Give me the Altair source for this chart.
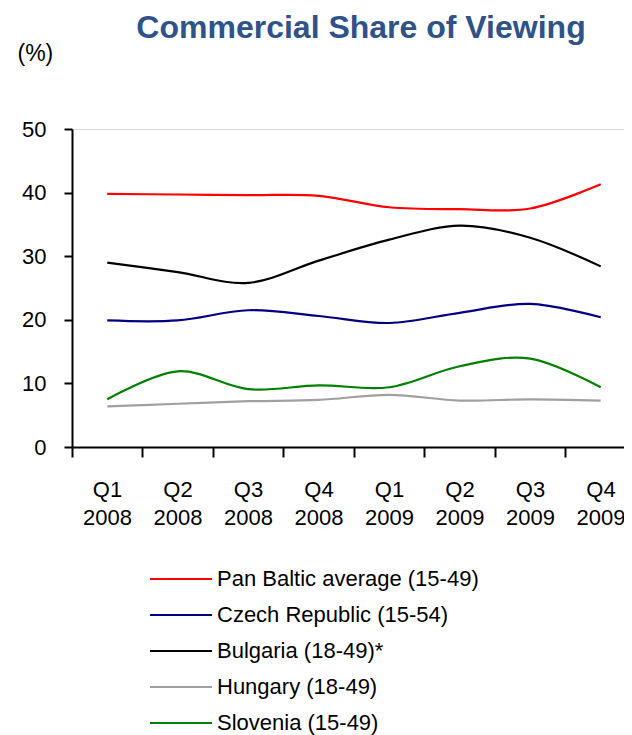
import altair as alt
import pandas as pd

# ---- data ----
quarters = ["Q1 2008", "Q2 2008", "Q3 2008", "Q4 2008",
            "Q1 2009", "Q2 2009", "Q3 2009", "Q4 2009"]
series_names = ["Pan Baltic average (15-49)", "Czech Republic (15-54)",
                "Bulgaria (18-49)*", "Hungary (18-49)", "Slovenia (15-49)"]
pan_baltic = [39.8, 39.7, 39.6, 39.5, 37.7, 37.4, 37.5, 41.3]
czech = [19.9, 19.9, 21.5, 20.6, 19.5, 21.1, 22.5, 20.4]
bulgaria = [29.0, 27.5, 25.8, 29.3, 32.6, 34.8, 32.9, 28.4]
hungary = [6.4, 6.8, 7.2, 7.4, 8.2, 7.3, 7.5, 7.3]
slovenia = [7.5, 11.9, 9.1, 9.7, 9.4, 12.7, 13.9, 9.4]
series_colors = ["#ff0000", "#000080", "#000000", "#a0a0a0", "#008000"]
y_ticks = [0, 10, 20, 30, 40, 50]

all_values = [pan_baltic, czech, bulgaria, hungary, slovenia]
rows = []
for name, vals in zip(series_names, all_values):
    for i, (q, v) in enumerate(zip(quarters, vals)):
        rows.append({"series": name, "idx": i, "quarter": q, "value": v})
df = pd.DataFrame(rows)

FONT = "Liberation Sans"
tick_vals = [i - 0.5 for i in range(len(quarters))]
js_arr = "[" + ",".join("'" + q + "'" for q in quarters) + "]"
label_expr = f"split({js_arr}[round(datum.value + 0.5)], ' ')"

chart = alt.Chart(df).mark_line(interpolate="cardinal", strokeWidth=2.2).encode(
    x=alt.X("idx:Q",
            scale=alt.Scale(domain=[-0.5, 7.33], nice=False, zero=False),
            axis=alt.Axis(values=tick_vals, labelExpr=label_expr, labelOffset=35,
                          tickSize=10, tickWidth=2, domainWidth=2,
                          domainColor="black", tickColor="black",
                          labelFontSize=22, labelLineHeight=28, labelPadding=22,
                          labelColor="black", labelFont=FONT, grid=False,
                          title=None, labelOverlap=False, labelFlush=False)),
    y=alt.Y("value:Q",
            scale=alt.Scale(domain=[0, 50], nice=False, zero=True),
            axis=alt.Axis(values=y_ticks, tickSize=8, tickWidth=2, domainWidth=2,
                          domainColor="black", tickColor="black",
                          labelFontSize=22, labelPadding=18, labelColor="black",
                          labelFont=FONT, grid=False,
                          title="(%)", titleAngle=0, titleX=-55, titleY=-76,
                          titleAlign="left", titleBaseline="middle",
                          titleFontSize=23, titleFontWeight="normal",
                          titleFont=FONT, titleColor="black")),
    color=alt.Color("series:N",
                    scale=alt.Scale(domain=series_names, range=series_colors),
                    legend=alt.Legend(orient="none", legendX=98, legendY=439,
                                      title=None, symbolType="M-6,0H6",
                                      symbolSize=107, symbolStrokeWidth=2.2,
                                      labelFontSize=22, labelFont=FONT,
                                      labelColor="black", labelLimit=600,
                                      labelOffset=25, rowPadding=14, padding=0,
                                      direction="vertical")),
).properties(
    width=552,
    height=318,
    autosize=alt.AutoSizeParams(type="none"),
    padding={"left": 64, "top": 121, "right": 0, "bottom": 288},
    title=alt.TitleParams("Commercial Share of Viewing", fontSize=32, font=FONT,
                          fontWeight="bold", color="#2f5289", anchor="middle",
                          frame="group", baseline="alphabetic", offset=7,
                          dx=13, dy=35),
).configure_view(stroke=None).configure(background="white")

chart.save("out.html", embed_options={"renderer": "svg", "actions": False})
